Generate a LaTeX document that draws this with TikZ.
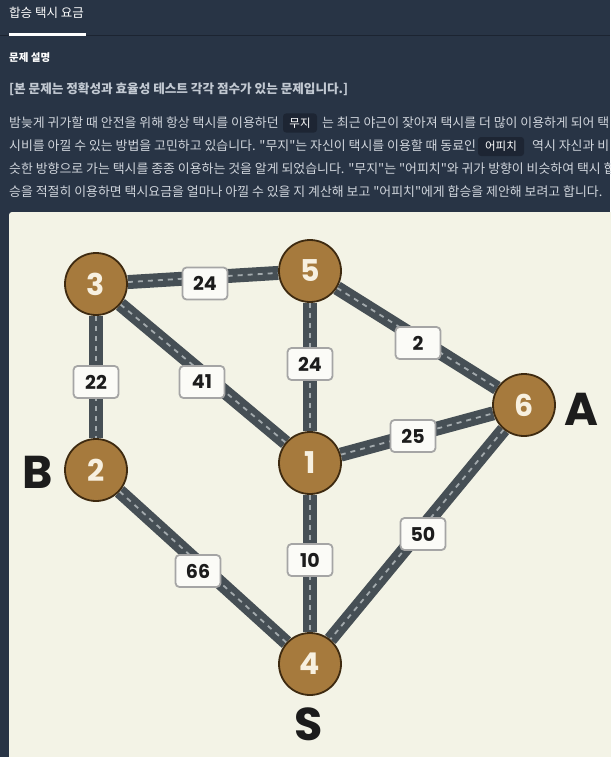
\documentclass[tikz,border=0pt]{standalone}
\usepackage{fontspec}
\setmainfont{Noto Sans CJK KR}[Ligatures=TeXOff]
\newfontfamily\numfont{Poppins}
\definecolor{pagebg}{HTML}{283445}
\definecolor{divider}{HTML}{1C2431}
\definecolor{chipbg}{HTML}{1D2533}
\definecolor{bodytext}{HTML}{D0D5DC}
\definecolor{notetext}{HTML}{C2C9D2}
\definecolor{panel}{HTML}{F3F3E6}
\definecolor{roadc}{HTML}{464F55}
\definecolor{dashc}{HTML}{A3AAAD}
\definecolor{nodefill}{HTML}{A67A3D}
\definecolor{nodeborder}{HTML}{3E2A10}
\definecolor{numwhite}{HTML}{F7F0E0}
\definecolor{boxborder}{HTML}{A5A5A5}
\definecolor{boxfill}{HTML}{FBFBF7}
\definecolor{ink}{HTML}{1C1C1C}
\pgfdeclarelayer{back}
\pgfdeclarelayer{roadlayer}
\pgfsetlayers{back,roadlayer,main}
\tikzset{
  body/.style={anchor=west, inner sep=0pt, text=bodytext, font=\fontsize{12.9}{14}\selectfont},
  chip/.style={fill=chipbg, rounded corners=3pt, minimum width=34pt, minimum height=19pt, inner sep=0pt, text=white, font=\fontsize{11.5}{13}\selectfont},
  road/.style={line width=14pt, draw=roadc, postaction={draw=dashc, line width=1.8pt, dash pattern=on 5pt off 5pt}},
  city/.style={circle, fill=nodefill, draw=nodeborder, line width=1.8pt, minimum size=62pt, inner sep=0pt, text=numwhite, font=\numfont\bfseries\fontsize{30}{30}\selectfont},
  wlab/.style={draw=boxborder, line width=1.8pt, fill=boxfill, rounded corners=4pt, minimum width=45pt, minimum height=32pt, inner sep=0pt, text=ink, font=\numfont\bfseries\fontsize{19}{19}\selectfont},
  place/.style={inner sep=0pt, text=ink, font=\numfont\bfseries\fontsize{46}{46}\selectfont}
}
\begin{document}
\begin{tikzpicture}[x=1pt,y=-1pt]
\useasboundingbox (0,0) rectangle (610,757);
\clip (0,0) rectangle (610,757);
\begin{pgfonlayer}{back}
\fill[pagebg] (0,0) rectangle (610,757);
\fill[divider] (0,34.8) rectangle (610,36);
\fill[white] (9,33.3) rectangle (86,35.6);
\fill[panel, rounded corners=3pt] (9,212) rectangle (640,790);
\end{pgfonlayer}
% header texts
\node[anchor=west, inner sep=0pt, text=white, font=\fontsize{12.5}{14}\selectfont] (title) at (9,13) {합승 택시 요금};
\node[anchor=west, inner sep=0pt, text=white, font=\bfseries\fontsize{10.5}{12}\selectfont] (sec) at (9,57.5) {문제 설명};
\node[anchor=west, inner sep=0pt, text=notetext, font=\bfseries\fontsize{12.6}{14}\selectfont] (note) at (9,89.5) {[본 문제는 정확성과 효율성 테스트 각각 점수가 있는 문제입니다.]};
% paragraph
\node[body] (l1a) at (9,122.5) {밤늦게 귀가할 때 안전을 위해 항상 택시를 이용하던};
\node[chip] (c1) at (300,123) {무지};
\node[body] (l1b) at (322,122.5) {는 최근 야근이 잦아져 택시를 더 많이 이용하게 되어 택};
\node[body] (l2a) at (9,146) {시비를 아낄 수 있는 방법을 고민하고 있습니다. "무지"는 자신이 택시를 이용할 때 동료인};
\node[chip, minimum width=46pt] (c2) at (501,146.5) {어피치};
\node[body] (l2b) at (532,146) {역시 자신과 비};
\node[body] (l3) at (9,169) {슷한 방향으로 가는 택시를 종종 이용하는 것을 알게 되었습니다. "무지"는 "어피치"와 귀가 방향이 비슷하여 택시 합};
\node[body] (l4) at (9,192) {승을 적절히 이용하면 택시요금을 얼마나 아낄 수 있을 지 계산해 보고 "어피치"에게 합승을 제안해 보려고 합니다.};
% graph nodes
\node[city] (n3) at (96,284) {3};
\node[city] (n5) at (310,271) {5};
\node[city] (n2) at (96,470) {2};
\node[city] (n1) at (310,463) {1};
\node[city] (n6) at (524,405) {6};
\node[city] (n4) at (310,664) {4};
% roads
\begin{pgfonlayer}{roadlayer}
\draw[road] (n3) -- (n5);
\draw[road] (n3) -- (n2);
\draw[road] (n3) -- (n1);
\draw[road] (n5) -- (n1);
\draw[road] (n5) -- (n6);
\draw[road] (n1) -- (n6);
\draw[road] (n2) -- (n4);
\draw[road] (n1) -- (n4);
\draw[road] (n6) -- (n4);
\end{pgfonlayer}
% weights
\node[wlab] (w35) at (205,283.5) {24};
\node[wlab] (w32) at (96,382) {22};
\node[wlab] (w31) at (202,382) {41};
\node[wlab] (w51) at (310,364) {24};
\node[wlab] (w56) at (418,343) {2};
\node[wlab] (w16) at (413,436) {25};
\node[wlab] (w24) at (198,571) {66};
\node[wlab] (w14) at (310,560) {10};
\node[wlab] (w64) at (423,534) {50};
% place labels
\node[place] (lb) at (38,472) {B};
\node[place] (la) at (581,409) {A};
\node[place] (ls) at (309,724) {S};
\end{tikzpicture}
\end{document}
